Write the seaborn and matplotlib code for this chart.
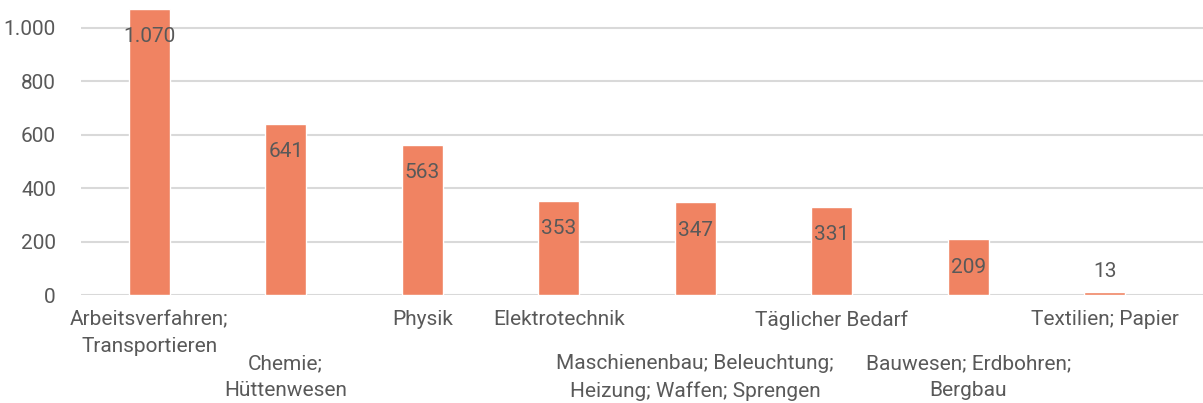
import matplotlib
matplotlib.use("Agg")
import matplotlib.pyplot as plt
import seaborn as sns
import pandas as pd

categories = [
    "Arbeitsverfahren;\nTransportieren",
    "Chemie;\nHüttenwesen",
    "Physik",
    "Elektrotechnik",
    "Maschienenbau; Beleuchtung;\nHeizung; Waffen; Sprengen",
    "Täglicher Bedarf",
    "Bauwesen; Erdbohren;\nBergbau",
    "Textilien; Papier",
]
values = [1070, 641, 563, 353, 347, 331, 209, 13]
y_ticks = [0, 200, 400, 600, 800, 1000]
lower_row = [1, 4, 6]  # categories whose label sits on the second row

sns.set_theme(style="white")
plt.rcParams["font.family"] = ["Roboto", "DejaVu Sans"]

text_color = "#595959"
bar_color = "#F08362"
grid_color = "#D9D9D9"
fs = 15

df = pd.DataFrame({"Kategorie": categories, "Anzahl": values})

fig = plt.figure(figsize=(12.03, 4.03), dpi=100)
ax = fig.add_axes([0.0673, 0.2672, 0.9327, 0.7328])

sns.barplot(data=df, x="Kategorie", y="Anzahl", color=bar_color, saturation=1,
            width=0.30, ax=ax, zorder=3)

ax.set_ylim(0, 1103)
ax.set_xlim(-0.5, 7.72)
ax.set_yticks(y_ticks)
ax.set_yticklabels([f"{v:,}".replace(",", ".") for v in y_ticks])
ax.yaxis.grid(True, color=grid_color, linewidth=1.5, zorder=0)
ax.set_axisbelow(True)
for s in ax.spines.values():
    s.set_visible(False)

ax.set_xticks(range(len(categories)))
ax.set_xticklabels([])
ax.tick_params(axis="x", length=0)
ax.tick_params(axis="y", length=0, pad=18, labelsize=fs, labelcolor=text_color)
ax.set_xlabel("")
ax.set_ylabel("")

# category labels, staggered onto two rows
for i, c in enumerate(categories):
    dy = -59 if i in lower_row else -15
    ax.annotate(c, xy=(i, 0), xycoords=("data", "axes fraction"),
                xytext=(0, dy), textcoords="offset pixels",
                ha="center", va="top", fontsize=fs, color=text_color,
                linespacing=1.5)

# value labels: inside the top of the bar, or above it for short bars
for i, v in enumerate(values):
    label = f"{v:,}".replace(",", ".")
    dy = -28 if v > 100 else 20
    ax.annotate(label, (i, v), xytext=(0, dy), textcoords="offset pixels",
                ha="center", va="center", fontsize=fs, color=text_color,
                zorder=4)

fig.savefig("out.png", dpi=100)
